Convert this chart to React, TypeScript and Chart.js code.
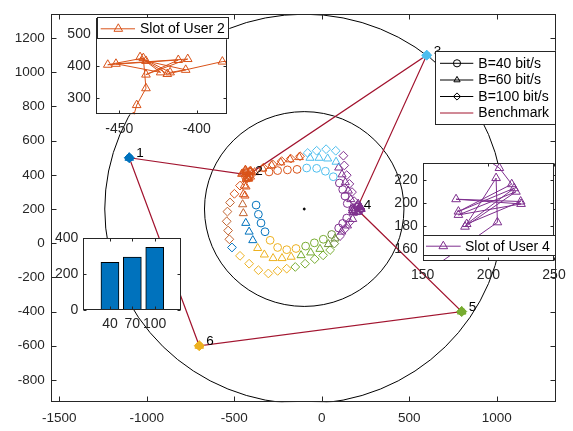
import React, { useEffect, useRef } from 'react';
import { Chart, registerables } from 'chart.js';
Chart.register(...registerables);

const FONT = '"Liberation Sans", Arial, Helvetica, sans-serif';
const AX = '#262626';

// palette: index -> colour (1 blue, 2 orange, 3 light blue, 4 purple, 5 green, 6 yellow, 7 brown, 8 olive)
const palette = ['#000000', '#0072BD', '#D95319', '#4DBEEE', '#7E2F8E', '#77AC30', '#EDB120', '#C0622E', '#6F8F3A'];

// ---------- main axes ----------
const mainXTicks = [-1500, -1000, -500, 0, 500, 1000];
const mainYTicks = [-800, -600, -400, -200, 0, 200, 400, 600, 800, 1000, 1200];
const ringCenter = [-100, 200];
const ringRadii = [570, 1140];

// users (benchmark tour 1-2-3-4-5-6-1)
const userNames = ['1', '2', '3', '4', '5', '6'];
const userX = [-1100, -420, 600, 200, 800, -700];
const userY = [500, 400, 1100, 200, -400, -600];
const userColor = [1, 2, 3, 4, 5, 6];
const benchOrder = [0, 1, 2, 3, 4, 5, 0];
const benchHoverUsers = [0, 2, 4, 5];

// B = 40 bit/s (circles)
const b40X = [-301, -252, -196, -141, -86, -29, 21, 66, 101, 120, 133, 146, 143, 120, 97, 57, 9, -42, -92, -147, -200, -252, -295, -324, -347, -362, -375];
const b40Y = [417, 425, 429, 432, 440, 438, 421, 389, 352, 314, 276, 232, 147, 116, 89, 51, 23, 2, -17, -31, -38, -25, 17, 67, 118, 169, 223];
const b40C = [2, 2, 2, 2, 3, 3, 3, 3, 4, 4, 4, 4, 4, 4, 4, 8, 5, 5, 5, 6, 6, 6, 6, 1, 1, 1, 1];

// B = 60 bit/s (triangles)
const b60X = [-442, -448, -452, -448, -434, -415, -394, -366, -328, -278, -227, -175, -118, -63, -10, 38, 76, 114, 147, 177, 166, 152, 135, 116, 97, 82, 34, -15, -67, -128, -181, -234, -286, -337];
const b60Y = [337, 286, 227, 175, 118, 67, 17, -29, -67, -88, -88, -80, -71, -55, -34, -6, 27, 67, 103, 141, 257, 307, 356, 402, 442, 476, 495, 499, 499, 503, 490, 472, 455, 436];
const b60C = [2, 2, 7, 7, 1, 1, 1, 6, 6, 6, 6, 6, 5, 5, 5, 8, 8, 4, 4, 4, 4, 4, 4, 4, 4, 3, 3, 3, 3, 2, 2, 2, 2, 2];

// B = 100 bit/s (diamonds)
const b100X = [-467, -499, -524, -539, -543, -535, -528, -513, -467, -415, -362, -305, -252, -200, -151, -95, -40, 8, 48, 72, 105, 131, 158, 185, 173, 158, 143, 129, 124, 80, 25, -29, -80, -124, -177, -229, -280, -333];
const b100Y = [337, 289, 238, 185, 128, 74, 23, -25, -74, -120, -158, -177, -162, -149, -139, -120, -93, -71, -40, -2, 42, 82, 122, 246, 299, 347, 398, 455, 512, 541, 550, 541, 528, 509, 495, 480, 461, 442];
const b100C = [2, 2, 7, 7, 7, 7, 7, 1, 6, 6, 6, 6, 6, 6, 5, 5, 5, 5, 5, 8, 4, 4, 4, 4, 4, 4, 4, 4, 4, 3, 3, 3, 3, 2, 2, 2, 2, 2];

// hovering near users 2 and 4
const hover2CircX = [-415, -428, -405, -435];
const hover2CircY = [395, 410, 415, 388];
const hover2DiamX = [-440, -412, -425, -398];
const hover2DiamY = [402, 420, 380, 405];
const hover4CircX = [190, 205, 215, 195];
const hover4CircY = [195, 210, 190, 185];
const hover4DiamX = [180, 212, 198, 222];
const hover4DiamY = [205, 192, 215, 200];

// ---------- inset: slot of user 2 ----------
const slot2X = [-441, -438.8, -432.8, -434.5, -457.5, -411.9, -432.8, -405.8, -452.2, -423.3, -436.6, -417.2, -407.1, -432.8, -419, -383.4, -370];
const slot2Y = [240, 278, 331, 426, 405, 420, 374, 423, 408, 381, 429, 381, 389, 417, 376, 415, 418];
const slot2XTicks = [-450, -400];
const slot2YTicks = [300, 400, 500];

// ---------- inset: slot of user 4 ----------
const slot4X = [196, 208.4, 217.8, 177.2, 219.6, 183.5, 224.6, 175.4, 224.9, 177.2, 221, 182.2, 205.9, 206.9, 160];
const slot4Y = [240, 230.5, 216.5, 192.8, 213, 182, 201.5, 203.5, 199.4, 189.9, 210, 179.7, 221.8, 183.5, 146];
const slot4XTicks = [150, 200, 250];
const slot4YTicks = [160, 180, 200, 220];

// ---------- inset: bars ----------
const barPos = [1, 2, 3];
const barLabels = ['40', '70', '100'];
const barValues = [267, 296, 350];
const barYTicks = [0, 200, 400];

// ---------- helpers ----------
const pts = (xs: number[], ys: number[]) => xs.map((x, i) => ({ x, y: ys[i] }));

function markerPath(ctx: CanvasRenderingContext2D, style: string, x: number, y: number, r: number) {
  ctx.beginPath();
  if (style === 'circle') ctx.arc(x, y, r, 0, Math.PI * 2);
  else if (style === 'triangle') {
    for (let k = 0; k < 3; k++) {
      const a = (k * 2 * Math.PI) / 3;
      const px = x + Math.sin(a) * r, py = y - Math.cos(a) * r;
      if (k === 0) ctx.moveTo(px, py); else ctx.lineTo(px, py);
    }
    ctx.closePath();
  } else {
    ctx.moveTo(x, y - r); ctx.lineTo(x + r, y); ctx.lineTo(x, y + r); ctx.lineTo(x - r, y); ctx.closePath();
  }
}

function drawBox(chart: any, len: number, xTicks: number[], yTicks: number[]) {
  const { ctx, chartArea: a, scales } = chart;
  const L = Math.round(a.left) + 0.5, R = Math.round(a.right) - 0.5, T = Math.round(a.top) + 0.5, B = Math.round(a.bottom) - 0.5;
  ctx.save();
  ctx.strokeStyle = AX; ctx.lineWidth = 1;
  ctx.strokeRect(L, T, R - L, B - T);
  ctx.beginPath();
  for (const v of xTicks) {
    const p = Math.round(scales.x.getPixelForValue(v)) + 0.5;
    ctx.moveTo(p, B); ctx.lineTo(p, B - len);
    ctx.moveTo(p, T); ctx.lineTo(p, T + len);
  }
  for (const v of yTicks) {
    const p = Math.round(scales.y.getPixelForValue(v)) + 0.5;
    ctx.moveTo(L, p); ctx.lineTo(L + len, p);
    ctx.moveTo(R, p); ctx.lineTo(R - len, p);
  }
  ctx.stroke();
  ctx.restore();
}

type LegendEntry = { label: string; color: string; marker?: string };
function drawLegend(ctx: CanvasRenderingContext2D, box: number[], lineX: number[], markerX: number, textX: number, rows: number[], entries: LegendEntry[], mr: number) {
  const [x0, y0, x1, y1] = box;
  ctx.save();
  ctx.fillStyle = '#ffffff';
  ctx.fillRect(x0, y0, x1 - x0, y1 - y0);
  ctx.strokeStyle = AX; ctx.lineWidth = 1;
  ctx.strokeRect(Math.round(x0) + 0.5, Math.round(y0) + 0.5, Math.round(x1 - x0) - 1, Math.round(y1 - y0) - 1);
  entries.forEach((e, i) => {
    const y = rows[i];
    ctx.strokeStyle = e.color; ctx.lineWidth = 1;
    ctx.beginPath(); ctx.moveTo(lineX[0], y); ctx.lineTo(lineX[1], y); ctx.stroke();
    if (e.marker) { markerPath(ctx, e.marker, markerX, y, mr); ctx.stroke(); }
    ctx.fillStyle = '#000';
    ctx.font = `14px ${FONT}`;
    ctx.textAlign = 'left'; ctx.textBaseline = 'middle';
    ctx.fillText(e.label, textX, y + 0.5);
  });
  ctx.restore();
}

function fixedTicks(values: number[]) {
  return (s: any) => { s.ticks = values.map((v) => ({ value: v })); };
}

const whiteArea = {
  id: 'whiteArea',
  beforeDraw(chart: any) {
    const { ctx, chartArea: a } = chart;
    ctx.save(); ctx.fillStyle = '#ffffff';
    ctx.fillRect(a.left, a.top, a.right - a.left, a.bottom - a.top);
    ctx.restore();
  },
};

function axisOpts(min: number, max: number, values: number[], size: number, padding: number, fit: (s: any) => void, cb?: (v: any) => string) {
  return {
    type: 'linear',
    min, max,
    offset: false,
    grid: { display: false, drawTicks: false },
    border: { display: false },
    ticks: { font: { family: FONT, size }, color: AX, padding, maxRotation: 0, autoSkip: false, callback: cb ?? ((v: any) => String(v)) },
    afterBuildTicks: fixedTicks(values),
    afterFit: fit,
  };
}

// ---------- configs ----------
function mainConfig(): any {
  const colorsOf = (c: number[]) => c.map((k) => palette[k]);
  const marker = (data: any[], style: string, color: any, r: number, fill = false) => ({
    type: 'scatter', data, pointStyle: style, pointRadius: r, pointHoverRadius: r,
    pointBorderColor: color, pointBackgroundColor: fill ? color : 'rgba(0,0,0,0)', pointBorderWidth: 1, showLine: false, order: 1,
  });
  const hoverUsersPts = benchHoverUsers.map((i) => ({ x: userX[i], y: userY[i] }));
  const hoverUsersCol = benchHoverUsers.map((i) => palette[userColor[i]]);
  const datasets: any[] = [
    {
      type: 'line', data: benchOrder.map((i) => ({ x: userX[i], y: userY[i] })), borderColor: '#A2142F', borderWidth: 1.2,
      pointRadius: 0, fill: false, tension: 0, order: 10,
    },
    marker(pts(b40X, b40Y), 'circle', colorsOf(b40C), 3.9),
    marker(pts(b60X, b60Y), 'triangle', colorsOf(b60C), 4.7),
    marker(pts(b100X, b100Y), 'rectRot', colorsOf(b100C), 4.4),
    marker(pts(slot2X, slot2Y).slice(1, -1), 'triangle', palette[2], 4.7),
    marker(pts(hover2CircX, hover2CircY), 'circle', palette[2], 3.9),
    marker(pts(hover2DiamX, hover2DiamY), 'rectRot', palette[2], 4.4),
    marker(pts(slot4X, slot4Y).slice(1, -1), 'triangle', palette[4], 4.7),
    marker(pts(hover4CircX, hover4CircY), 'circle', palette[4], 3.9),
    marker(pts(hover4DiamX, hover4DiamY), 'rectRot', palette[4], 4.4),
    marker(hoverUsersPts, 'circle', hoverUsersCol, 3.5, true),
    marker(hoverUsersPts, 'triangle', hoverUsersCol, 5, true),
    marker(hoverUsersPts, 'rectRot', hoverUsersCol, 5, true),
    marker([{ x: ringCenter[0], y: ringCenter[1] }], 'circle', '#000', 1, true),
  ];
  const decor = {
    id: 'mainDecor',
    beforeDatasetsDraw(chart: any) {
      const { ctx, chartArea: a, scales: { x, y } } = chart;
      ctx.save();
      ctx.beginPath(); ctx.rect(a.left, a.top, a.right - a.left, a.bottom - a.top); ctx.clip();
      ctx.strokeStyle = '#000'; ctx.lineWidth = 1;
      const cx = x.getPixelForValue(ringCenter[0]), cy = y.getPixelForValue(ringCenter[1]);
      for (const r of ringRadii) {
        const rx = Math.abs(x.getPixelForValue(ringCenter[0] + r) - cx);
        const ry = Math.abs(y.getPixelForValue(ringCenter[1] + r) - cy);
        ctx.beginPath(); ctx.ellipse(cx, cy, rx, ry, 0, 0, Math.PI * 2); ctx.stroke();
      }
      ctx.restore();
    },
    afterDatasetsDraw(chart: any) {
      const { ctx, scales: { x, y } } = chart;
      ctx.save();
      ctx.fillStyle = '#000'; ctx.font = `13.5px ${FONT}`; ctx.textAlign = 'left'; ctx.textBaseline = 'middle';
      userNames.forEach((n, i) => ctx.fillText(n, x.getPixelForValue(userX[i]) + 7, y.getPixelForValue(userY[i]) - 4));
      ctx.restore();
      drawBox(chart, 5, mainXTicks, mainYTicks);
      drawLegend(ctx, [435, 50.7, 555.7, 124.3], [440, 473.3], 457, 478.3, [63.3, 80, 96.5, 113],
        [
          { label: 'B=40 bit/s', color: '#000', marker: 'circle' },
          { label: 'B=60 bit/s', color: '#000', marker: 'triangle' },
          { label: 'B=100 bit/s', color: '#000', marker: 'rectRot' },
          { label: 'Benchmark', color: '#A2142F' },
        ], 3.6);
    },
  };
  return {
    type: 'scatter',
    data: { datasets },
    options: {
      animation: false, responsive: false, devicePixelRatio: 1,
      layout: { padding: { top: 4.7, right: 17, left: 0, bottom: 0 } },
      plugins: { legend: { display: false }, tooltip: { enabled: false } },
      scales: {
        x: axisOpts(-1549, 1339, mainXTicks, 13.5, 8, (s) => { s.height = 28.7; }),
        y: axisOpts(-931, 1340.6, mainYTicks, 13.5, 6, (s) => { s.width = 50.7; }),
      },
    },
    plugins: [decor],
  };
}

function slotConfig(xs: number[], ys: number[], color: string, xr: number[], yr: number[], xt: number[], yt: number[], area: number[], size: number[], legend: any): any {
  const [l, t, r, b] = area;
  const decor = {
    id: 'slotDecor',
    afterDatasetsDraw(chart: any) {
      drawBox(chart, 3, xt, yt);
      drawLegend(chart.ctx, legend.box, legend.line, legend.marker, legend.text, [legend.row], [{ label: legend.label, color, marker: 'triangle' }], 5);
    },
  };
  return {
    type: 'line',
    data: {
      datasets: [{
        data: pts(xs, ys), borderColor: color, borderWidth: 1, tension: 0, fill: false,
        pointStyle: 'triangle', pointRadius: 5, pointHoverRadius: 5, pointBorderColor: color,
        pointBackgroundColor: 'rgba(0,0,0,0)', pointBorderWidth: 1,
      }],
    },
    options: {
      animation: false, responsive: false, devicePixelRatio: 1,
      layout: { padding: { top: t, right: size[0] - r, left: 0, bottom: 0 } },
      plugins: { legend: { display: false }, tooltip: { enabled: false } },
      scales: {
        x: axisOpts(xr[0], xr[1], xt, 14, 6, (s) => { s.height = size[1] - b; }),
        y: axisOpts(yr[0], yr[1], yt, 14, 5, (s) => { s.width = l; }),
      },
    },
    plugins: [whiteArea, decor],
  };
}

function barConfig(): any {
  const area = [33.3, 10.7, 130.7, 85];
  const size = [140, 115];
  const decor = { id: 'barDecor', afterDatasetsDraw(chart: any) { drawBox(chart, 3, barPos, barYTicks); } };
  return {
    type: 'bar',
    data: {
      datasets: [{
        data: barPos.map((x, i) => ({ x, y: barValues[i] })), backgroundColor: '#0072BD', borderColor: '#000', borderWidth: 1, barThickness: 18,
      }],
    },
    options: {
      animation: false, responsive: false, devicePixelRatio: 1,
      layout: { padding: { top: area[1], right: size[0] - area[2], left: 0, bottom: 0 } },
      plugins: { legend: { display: false }, tooltip: { enabled: false } },
      scales: {
        x: axisOpts(-0.19, 4.16, barPos, 14, 6, (s) => { s.height = size[1] - area[3]; }, (v: any) => barLabels[barPos.indexOf(Number(v))] ?? ''),
        y: axisOpts(0, 400, barYTicks, 14, 5, (s) => { s.width = area[0]; }),
      },
    },
    plugins: [whiteArea, decor],
  };
}

function ChartBox({ left, top, width, height, build }: { left: number; top: number; width: number; height: number; build: () => any }) {
  const ref = useRef<HTMLCanvasElement>(null);
  useEffect(() => {
    const chart = new Chart(ref.current as HTMLCanvasElement, build());
    return () => chart.destroy();
  }, []);
  return <canvas ref={ref} width={width} height={height} style={{ position: 'absolute', left, top, width, height }} />;
}

export default function App() {
  return (
    <div style={{ position: 'absolute', left: 0, top: 0, width: 573, height: 431, background: '#fff', overflow: 'hidden' }}>
      <ChartBox left={0} top={0} width={573} height={431} build={mainConfig} />
      <ChartBox left={55} top={5} width={180} height={135}
        build={() => slotConfig(slot2X, slot2Y, palette[2], [-465.3, -380.6], [249, 551], slot2XTicks, slot2YTicks,
          [40.7, 11, 171.7, 109.3], [180, 135],
          { box: [42.3, 12.3, 174.3, 34.3], line: [45.7, 80], marker: 63.3, text: 85, row: 23.8, label: 'Slot of User 2' })} />
      <ChartBox left={390} top={150} width={183} height={140}
        build={() => slotConfig(slot4X, slot4Y, palette[4], [150, 250], [150, 234.5], slot4XTicks, slot4YTicks,
          [32.7, 13.3, 164, 111], [183, 140],
          { box: [32.7, 85, 165.7, 106], line: [36, 70.7], marker: 53.3, text: 75, row: 96.2, label: 'Slot of User 4' })} />
      <ChartBox left={50} top={225} width={140} height={115} build={barConfig} />
    </div>
  );
}
